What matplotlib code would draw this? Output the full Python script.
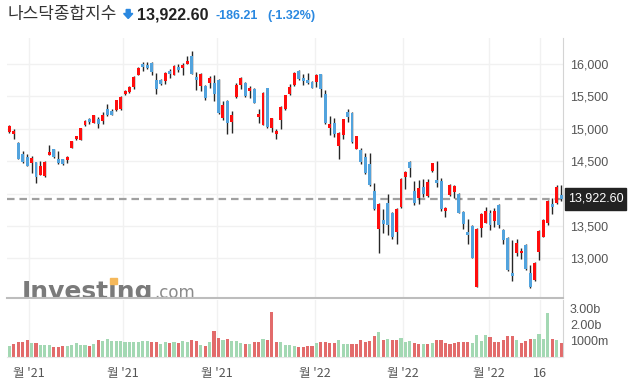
import matplotlib
matplotlib.use("Agg")
import matplotlib.pyplot as plt
from matplotlib.patches import Rectangle, Polygon

# ---------------- data ----------------
opens = [14955, 14925, 14781, 14607, 14565, 14477, 14483, 14292, 14272, 14600,
         14684, 14530, 14530, 14523, 14708, 14843, 14832, 15059, 15151, 15094,
         15151, 15120, 15306, 15275, 15290, 15306, 15532, 15568, 15650, 15835,
         16000, 15985, 16015, 15753, 15748, 15742, 15892, 15835, 15958, 15943,
         16005, 16128, 15804, 15661, 15661, 15702, 15707, 15753, 15162, 15429,
         15105, 15495, 15676, 15707, 15588, 15614, 15182, 15064, 15625, 15008,
         14920, 15136, 15306, 15532, 15676, 15892, 15789, 15753, 15718, 15727,
         15846, 15542, 15017, 15090, 14739, 14909, 15264, 15244, 14693, 14673,
         14565, 14457, 14040, 13459, 13593, 13850, 13696, 13408, 13793, 14261,
         14488, 14040, 13937, 14097, 13968, 14349, 14210, 14190, 13732, 13974,
         14030, 13994, 13721, 13408, 13500, 12564, 13474, 13547, 13706, 13582,
         13824, 13443, 13315, 12780, 13088, 13079, 13207, 12780, 12667, 13104,
         13335, 13551, 13844, 13850, 13983]
closes = [15043, 14971, 14539, 14492, 14431, 14550, 14252, 14426, 14483, 14642,
          14570, 14477, 14452, 14565, 14807, 14884, 15008, 15120, 15105, 15208,
          15074, 15208, 15213, 15218, 15440, 15491, 15583, 15645, 15799, 15934,
          15958, 15938, 15881, 15619, 15696, 15861, 15850, 15974, 15903, 15985,
          16046, 15850, 15758, 15846, 15471, 15784, 15532, 15248, 15363, 15085,
          15213, 15676, 15779, 15511, 15630, 15403, 15228, 15553, 15023, 15162,
          14971, 15337, 15517, 15645, 15861, 15764, 15742, 15702, 15635, 15830,
          15619, 15090, 15074, 14920, 14935, 15151, 15178, 14801, 14884, 14488,
          14323, 14138, 13758, 13840, 13526, 13516, 13335, 13763, 14221, 14329,
          14395, 13860, 14082, 13994, 14179, 14472, 14168, 13763, 13778, 14133,
          14117, 13706, 13536, 13366, 13011, 13454, 13686, 13732, 13520, 13732,
          13520, 13284, 12817, 12729, 13233, 13115, 12832, 12564, 12934, 13423,
          13593, 13886, 13798, 14108.8, 13922.6]
highs = [15059, 14992, 14801, 14662, 14616, 14585, 14488, 14499, 14499, 14746,
         14693, 14653, 14534, 14576, 14817, 14894, 15017, 15136, 15171, 15218,
         15178, 15255, 15378, 15306, 15449, 15501, 15599, 15656, 15815, 15949,
         16035, 16026, 16026, 15856, 15769, 15872, 15918, 15989, 15995, 16011,
         16123, 16200, 15881, 15856, 15676, 15820, 15826, 15764, 15434, 15444,
         15275, 15702, 15795, 15718, 15661, 15625, 15301, 15563, 15635, 15171,
         14997, 15347, 15527, 15687, 15872, 15903, 15850, 15856, 15738, 15841,
         15846, 15599, 15198, 15167, 14951, 15156, 15301, 15259, 14894, 14699,
         14631, 14622, 14159, 13851, 13758, 13989, 13712, 13773, 14237, 14349,
         14508, 14190, 14205, 14225, 14225, 14472, 14499, 14236, 13799, 14144,
         14133, 14005, 13732, 13604, 13511, 13464, 13696, 13793, 13742, 13773,
         13835, 13459, 13325, 13284, 13295, 13156, 13218, 12894, 12945, 13434,
         13604, 13897, 13932, 14138, 14138]
lows = [14940, 14847, 14530, 14472, 14421, 14313, 14168, 14283, 14256, 14591,
        14554, 14462, 14437, 14468, 14699, 14832, 14823, 15039, 15070, 15085,
        15008, 15070, 15193, 15208, 15279, 15295, 15522, 15557, 15610, 15826,
        15897, 15927, 15835, 15532, 15681, 15696, 15784, 15826, 15877, 15835,
        15995, 15841, 15594, 15588, 15449, 15625, 15434, 15228, 15136, 14925,
        14931, 15480, 15610, 15486, 15471, 15393, 15085, 15054, 15012, 14951,
        14847, 15002, 15295, 15522, 15666, 15753, 15671, 15696, 15625, 15650,
        15495, 15074, 14904, 14869, 14530, 14838, 15105, 14776, 14684, 14462,
        14307, 14122, 13747, 13079, 13397, 13366, 13295, 13218, 13783, 14066,
        14252, 13829, 13835, 13952, 13948, 14334, 14107, 13736, 13644, 13963,
        13928, 13696, 13449, 13227, 13001, 12554, 13335, 13542, 13434, 13480,
        13464, 13218, 12806, 12652, 13037, 12998, 12821, 12548, 12652, 12976,
        13325, 13511, 13686, 13840, 13883]
# volume in billions
volumes = [0.68, 0.82, 0.92, 0.92, 1.04, 0.88, 0.86, 0.76, 0.76, 0.76,
           0.62, 0.62, 0.68, 0.68, 0.76, 0.88, 0.76, 0.76, 0.68, 0.80,
           1.04, 0.98, 1.10, 0.98, 0.98, 0.98, 0.92, 0.92, 0.92, 0.92,
           0.98, 0.98, 0.92, 0.92, 0.80, 0.92, 0.86, 0.92, 0.86, 0.98,
           0.92, 1.04, 0.98, 0.74, 0.68, 0.92, 1.64, 1.16, 1.04, 1.10,
           0.98, 0.98, 0.86, 0.80, 0.80, 0.92, 0.92, 1.10, 1.04, 2.82,
           0.92, 0.92, 0.74, 0.74, 0.71, 0.65, 0.65, 0.71, 0.71, 0.88,
           0.94, 0.94, 0.88, 0.88, 1.04, 0.83, 0.79, 0.83, 0.83, 1.04,
           0.94, 0.98, 1.29, 1.54, 1.04, 1.15, 1.04, 1.04, 1.21, 0.94,
           0.98, 0.90, 0.83, 0.83, 0.83, 0.90, 1.04, 1.04, 0.90, 0.79,
           0.90, 0.94, 0.94, 0.94, 0.90, 1.35, 0.98, 1.35, 1.25, 0.94,
           0.94, 1.04, 1.29, 1.29, 1.08, 0.90, 0.98, 1.15, 1.10, 1.42,
           1.10, 2.77, 1.10, 1.08, 0.90]
# volume bar direction: g = green, r = red
volume_dir = ("grrrrgrggg" "rrrgggggrg" "rggggggggg" "ggrrggrgrg" "grrgrgrrgr"
              "gggrgrrgrr" "rggg"
              "grrrr" "grrrr" "gggrr" "rrrrg" "rgrrg" "ggrrg" "rgrrr" "rrrrr"
              "ggggr" "rrrrr" "grrrg" "gggrg" "r")
x_tick_pos = [4.5, 25.5, 46.6, 68.6, 88.5, 107.8, 119.3]
x_tick_labels = ["월 '21", "월 '21", "월 '21", "월 '22", "월 '22", "월 '22", "16"]
price_ticks = [13000, 13500, 14000, 14500, 15000, 15500, 16000]
vol_ticks = [1, 2, 3]
vol_tick_labels = ["1000m", "2.00b", "3.00b"]
last_price = 13922.60
change = -186.21
change_pct = -1.32
title_name = "나스닥종합지수"

# ---------------- figure ----------------
W, H = 634, 385
fig = plt.figure(figsize=(W / 100, H / 100), dpi=100)
fig.patch.set_facecolor("white")


def fx(x):
    return x / W


def fy(y):
    return 1 - y / H


L, R = 7, 563
ax = fig.add_axes([fx(L), fy(298), (R - L) / W, (298 - 38) / H])
vax = fig.add_axes([fx(L), fy(357), (R - L) / W, (357 - 300) / H])

n = len(opens)
xs = list(range(n))
UP, DN = "#ff0d0d", "#52a3dd"
cols = [UP if c >= o else DN for o, c in zip(opens, closes)]
bottoms = [min(o, c) for o, c in zip(opens, closes)]
heights = [max(abs(c - o), 10) for o, c in zip(opens, closes)]

ax.vlines(xs, lows, highs, color="#262626", linewidth=1.0, zorder=2)
ax.bar(xs, heights, bottom=bottoms, width=0.66, color=cols, linewidth=0, zorder=3)
ax.axhline(last_price, color="#a0a0a0", linewidth=1.6, dashes=(3.4, 2.2), zorder=1.5)

ax.set_xlim(-0.52, 124.4)
ax.set_ylim(12389, 16401)
ax.set_yticks(price_ticks)
ax.set_yticklabels([f"{t:,}" for t in price_ticks])
ax.set_xticks(x_tick_pos)
ax.tick_params(axis="x", bottom=False, labelbottom=False, length=0)
ax.tick_params(axis="y", left=False, labelleft=False, right=True, labelright=True,
               length=0, pad=5, labelsize=9, labelcolor="#555555")
for lab in ax.get_yticklabels():
    lab.set_fontfamily("Liberation Sans")
ax.grid(True, color="#f1f1f1", linewidth=1.0, zorder=0)
ax.set_axisbelow(True)
for s in ("top", "left"):
    ax.spines[s].set_visible(False)
ax.spines["right"].set_color("#d4d4d4")
ax.spines["bottom"].set_color("#bdbdbd")
ax.spines["bottom"].set_linewidth(1.5)

# watermark
WM_Y = -0.5 / 260
wm_kw = dict(transform=ax.transAxes, fontsize=18, fontweight="bold",
             family="DejaVu Sans", va="baseline", ha="left")
wm = ax.text(0.027, WM_Y, "Investing", color="#7a7a7a", clip_on=True, zorder=1, **wm_kw)
fig.canvas.draw()
renderer = fig.canvas.get_renderer()
bb = wm.get_window_extent(renderer)
tmp = ax.text(0.027, WM_Y, "Invest", **wm_kw)
bb2 = tmp.get_window_extent(renderer)
tmp.remove()
tmp = ax.text(0.027, WM_Y, "i", **wm_kw)
bbi = tmp.get_window_extent(renderer)
tmp.remove()
cx, _ = ax.transAxes.inverted().transform((bb.x1, bb.y0))
ax.text(cx + 0.002, WM_Y, ".com", transform=ax.transAxes, fontsize=12,
        color="#8a8a8a", family="DejaVu Sans", va="baseline", ha="left",
        clip_on=True, zorder=1)
# orange dot of the i
icx = bb2.x1 + bbi.width / 2
base_disp = ax.transAxes.transform((0, WM_Y))[1]
fig.add_artist(Rectangle(((icx - 3.2) / W, (base_disp + 14.8) / H), 6.4 / W, 5.6 / H,
                         transform=fig.transFigure, color="#f5b85a", zorder=2))

# ---------------- volume ----------------
vcols = ["#a3d8b3" if d == "g" else "#e26b6b" for d in volume_dir]
vax.bar(xs, volumes, width=0.7, color=vcols, linewidth=0, zorder=2)
vax.set_xlim(-0.52, 124.4)
vax.set_ylim(0, 3.56)
vax.set_yticks(vol_ticks)
vax.set_yticklabels(vol_tick_labels)
vax.set_xticks(x_tick_pos)
vax.set_xticklabels(x_tick_labels)
vax.tick_params(axis="y", left=False, labelleft=False, right=True, labelright=True,
                length=0, pad=5, labelsize=9, labelcolor="#555555")
vax.tick_params(axis="x", length=0, pad=7, labelsize=9, labelcolor="#555555")
for lab in vax.get_yticklabels():
    lab.set_fontfamily("Liberation Sans")
for lab in vax.get_xticklabels():
    lab.set_fontfamily(["Noto Sans CJK KR", "DejaVu Sans"])
vax.grid(True, axis="x", color="#f1f1f1", linewidth=1.0, zorder=0)
vax.set_axisbelow(True)
for s in ("top", "left"):
    vax.spines[s].set_visible(False)
vax.spines["right"].set_color("#d4d4d4")
vax.spines["bottom"].set_color("#e6e6e6")

# ---------------- price box ----------------
ly = ax.transData.transform((0, last_price))[1]
fig.add_artist(Rectangle((565 / W, (ly - 11) / H), 61 / W, 22 / H,
                         transform=fig.transFigure, color="#222222", zorder=5))
fig.text(596 / W, ly / H, f"{last_price:,.2f}", color="white", fontsize=9,
         family="Liberation Sans", ha="center", va="center", zorder=6)

# ---------------- title ----------------
fig.text(fx(8), fy(19), title_name, fontsize=12.2, color="#333333",
         family=["Noto Sans CJK KR", "DejaVu Sans"], va="baseline", ha="left")
arrow = [(126.2, 9.5), (130.2, 9.5), (130.2, 13.5), (132.8, 13.5), (128.2, 18.5),
         (123.6, 13.5), (126.2, 13.5)]
fig.add_artist(Polygon([(fx(a), fy(b)) for a, b in arrow], closed=True,
                       transform=fig.transFigure, color="#2a88e0", zorder=5))
fig.text(fx(137.5), fy(19), f"{last_price:,.2f}", fontsize=11.5, fontweight="bold",
         color="#222222", family="Liberation Sans", va="baseline", ha="left")
fig.text(fx(216), fy(19), f"{change:,.2f}", fontsize=9, fontweight="bold",
         color="#2a88e0", family="Liberation Sans", va="baseline", ha="left")
fig.text(fx(267), fy(19), f"({change_pct:.2f}%)", fontsize=9, fontweight="bold",
         color="#2a88e0", family="Liberation Sans", va="baseline", ha="left")

fig.savefig("out.png", dpi=100, facecolor="white")
